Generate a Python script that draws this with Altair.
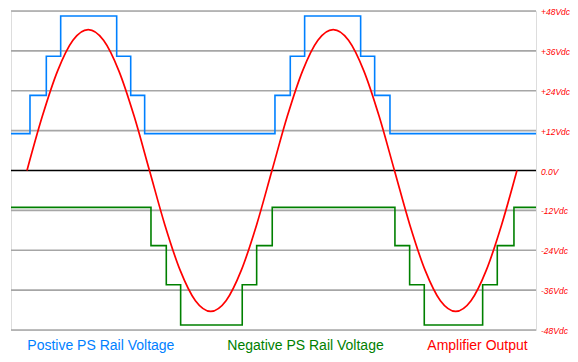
import altair as alt
import pandas as pd

# Grid levels (volts) and their labels
grid_levels = [48, 36, 24, 12, -12, -24, -36, -48]
grid_labels = ["+48Vdc", "+36Vdc", "+24Vdc", "+12Vdc", "-12Vdc", "-24Vdc", "-36Vdc", "-48Vdc"]

# Positive rail (step, phase in degrees -> volts)
pos_phase = [-23.5, 4.4, 28.4, 49.5, 131.8, 152.4, 172.9, 364.4, 386.9, 408.0, 490.3, 510.9, 533.4, 748.0]
pos_volts = [11.1, 22.6, 34.4, 46.5, 34.4, 22.6, 11.1, 22.6, 34.4, 46.5, 34.4, 22.6, 11.1, 11.1]

# Negative rail
neg_phase = [-23.5, 182.2, 204.7, 225.8, 316.3, 337.5, 360.4, 540.7, 562.3, 583.8, 669.6, 691.1, 715.6, 748.0]
neg_volts = [-11.1, -22.6, -34.4, -46.5, -34.4, -22.6, -11.1, -22.6, -34.4, -46.5, -34.4, -22.6, -11.1, -11.1]

# Amplifier output (read at 22.5 degree steps)
out_phase = [0, 22.5, 45, 67.5, 90, 112.5, 135, 157.5, 180, 202.5, 225, 247.5, 270, 292.5, 315, 337.5,
             360, 382.5, 405, 427.5, 450, 472.5, 495, 517.5, 540, 562.5, 585, 607.5, 630, 652.5, 675, 697.5, 720]
out_volts = [0, 16.3, 30.0, 39.2, 42.4, 39.2, 30.0, 16.3, 0, -16.3, -30.0, -39.2, -42.4, -39.2, -30.0, -16.3,
             0, 16.3, 30.0, 39.2, 42.4, 39.2, 30.0, 16.3, 0, -16.3, -30.0, -39.2, -42.4, -39.2, -30.0, -16.3, 0]

legend_texts = ["Postive PS Rail Voltage", "Negative PS Rail Voltage", "Amplifier Output"]
legend_colors = ["#0080FF", "#008000", "#FF0000"]

W, H = 525, 319
xs = alt.Scale(domain=[-23.5, 748], nice=False, zero=False)
ys = alt.Scale(domain=[-48, 48], nice=False, zero=False)

grid_df = pd.DataFrame({"v": grid_levels, "label": grid_labels})
zero_df = pd.DataFrame({"v": [0], "label": ["0.0V"]})
pos_df = pd.DataFrame({"phase": pos_phase, "volts": pos_volts})
neg_df = pd.DataFrame({"phase": neg_phase, "volts": neg_volts})
out_df = pd.DataFrame({"phase": out_phase, "volts": out_volts})
leg_df = pd.DataFrame({"text": legend_texts, "color": legend_colors, "px": [16.3, 216.3, 416.3]})

grid = alt.Chart(grid_df).mark_rule(color="#A6A6A6", strokeWidth=1.6).encode(
    y=alt.Y("v:Q", scale=ys, axis=None), x=alt.value(0), x2=alt.value(W))
zero = alt.Chart(zero_df).mark_rule(color="#000000", strokeWidth=1.5).encode(
    y=alt.Y("v:Q", scale=ys, axis=None), x=alt.value(0), x2=alt.value(W))

labels = alt.Chart(pd.concat([grid_df, zero_df])).mark_text(
    align="left", baseline="middle", font="Liberation Sans", fontSize=8.5, dy=1,
    fontStyle="italic", color="#FF0000").encode(
    y=alt.Y("v:Q", scale=ys, axis=None), x=alt.value(530), text="label:N")

pos = alt.Chart(pos_df).mark_line(interpolate="step-after", color="#0080FF", strokeWidth=1.6).encode(
    x=alt.X("phase:Q", scale=xs, axis=None), y=alt.Y("volts:Q", scale=ys, axis=None))
neg = alt.Chart(neg_df).mark_line(interpolate="step-after", color="#008000", strokeWidth=1.6).encode(
    x=alt.X("phase:Q", scale=xs, axis=None), y=alt.Y("volts:Q", scale=ys, axis=None))
out = alt.Chart(out_df).mark_line(interpolate="monotone", color="#FF0000", strokeWidth=1.7).encode(
    x=alt.X("phase:Q", scale=xs, axis=None), y=alt.Y("volts:Q", scale=ys, axis=None))

legend = alt.Chart(leg_df).mark_text(
    align="left", baseline="alphabetic", font="Liberation Sans", fontSize=14).encode(
    x=alt.X("px:Q", scale=None), y=alt.value(339), text="text:N",
    color=alt.Color("color:N", scale=None))

chart = alt.layer(grid, zero, pos, neg, out, labels, legend).properties(
    width=W, height=H,
    autosize=alt.AutoSizeParams(type="none"),
    padding={"left": 3, "top": 3, "right": 34, "bottom": 24},
).configure_view(stroke=None).configure(background="white")

chart.save("out.html", embed_options={"renderer": "svg", "actions": False})
